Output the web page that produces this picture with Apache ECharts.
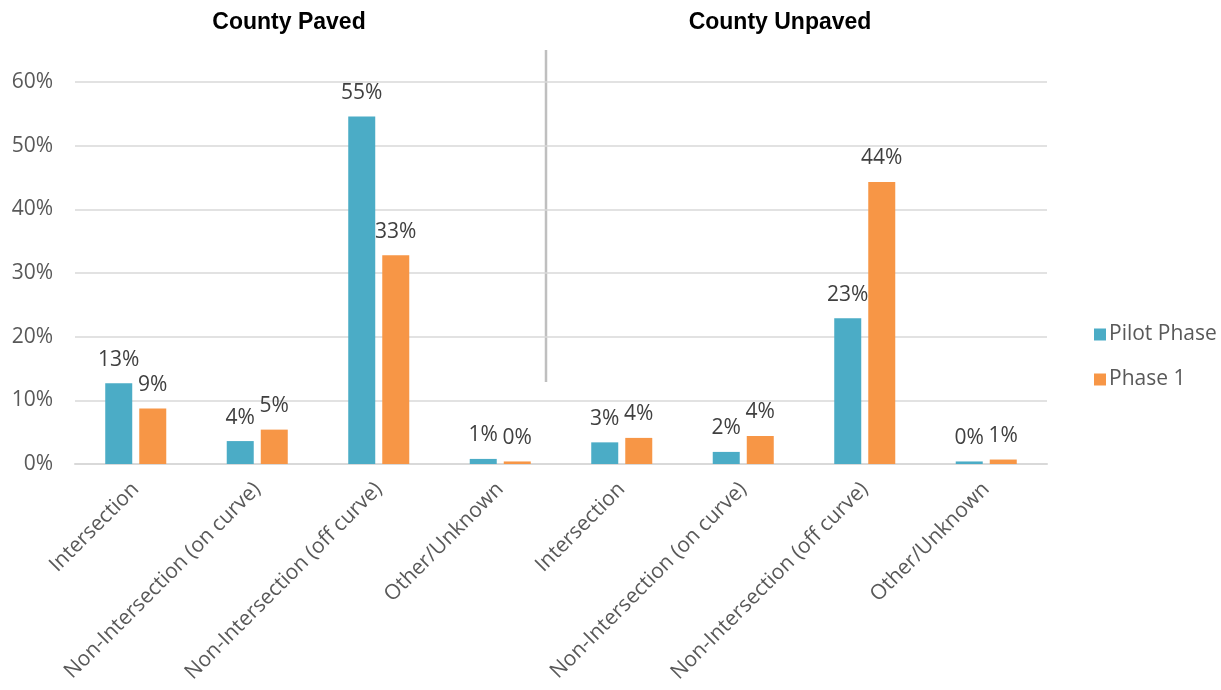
<!DOCTYPE html>
<html><head><meta charset="utf-8">
<script src="https://cdn.jsdelivr.net/npm/echarts@6/dist/echarts.min.js"></script>
<style>html,body{margin:0;padding:0;background:#fff}#c{width:1221px;height:690px}</style>
</head><body><div id="c"></div>
<script>
const categories = ["Intersection","Non-Intersection (on curve)","Non-Intersection (off curve)","Other/Unknown","Intersection","Non-Intersection (on curve)","Non-Intersection (off curve)","Other/Unknown"];
const pilotPhase = [12.7, 3.6, 54.6, 0.8, 3.4, 1.9, 22.9, 0.4];
const phase1 = [8.7, 5.4, 32.8, 0.4, 4.1, 4.4, 44.3, 0.7];
const groupTitles = ["County Paved", "County Unpaved"];
const seriesNames = ["Pilot Phase", "Phase 1"];

const FONT = "Open Sans";
const chart = echarts.init(document.getElementById('c'), null, {renderer:'canvas'});
const labelCfg = {
  show: true, position: 'top', distance: 13,
  color: '#404040', fontSize: 21, fontFamily: FONT,
  formatter: p => Math.round(p.value) + '%'
};
chart.setOption({
  animation: false,
  textStyle: {fontFamily: FONT},
  grid: {left: 75, right: 174, top: 82, bottom: 226, containLabel: false},
  legend: {
    orient: 'vertical', left: 1089, top: 319, itemWidth: 12, itemHeight: 12, itemGap: 24,
    icon: 'rect',
    textStyle: {fontSize: 21, color: '#595959', fontFamily: FONT, padding: [0,0,0,-2]},
    data: seriesNames
  },
  title: [
    {text: groupTitles[0], left: 284, top: 6, textAlign: 'center',
     textStyle: {fontSize: 23, fontWeight: 'bold', color: '#000', fontFamily: 'Liberation Sans'}},
    {text: groupTitles[1], left: 775, top: 6, textAlign: 'center',
     textStyle: {fontSize: 23, fontWeight: 'bold', color: '#000', fontFamily: 'Liberation Sans'}}
  ],
  xAxis: {
    type: 'category', data: categories,
    axisLine: {lineStyle: {color: '#D9D9D9', width: 2}},
    axisTick: {show: false},
    axisLabel: {rotate: 45, interval: 0, color: '#595959', fontSize: 21, fontFamily: FONT, margin: 22}
  },
  yAxis: {
    type: 'value', min: 0, max: 60, interval: 10,
    axisLine: {show: false}, axisTick: {show: false},
    splitLine: {lineStyle: {color: '#D9D9D9', width: 1.5}},
    axisLabel: {formatter: '{value}%', color: '#595959', fontSize: 21, fontFamily: FONT, margin: 22}
  },
  series: [
    {name: seriesNames[0], type: 'bar', data: pilotPhase, barWidth: 27, barGap: '26%',
     itemStyle: {color: '#4BACC6'}, label: labelCfg},
    {name: seriesNames[1], type: 'bar', data: phase1, barWidth: 27,
     itemStyle: {color: '#F79646'}, label: labelCfg}
  ],
  graphic: [
    {type: 'line', shape: {x1: 546, y1: 50, x2: 546, y2: 382},
     style: {stroke: '#BFBFBF', lineWidth: 2.5}}
  ]
});
</script></body></html>
